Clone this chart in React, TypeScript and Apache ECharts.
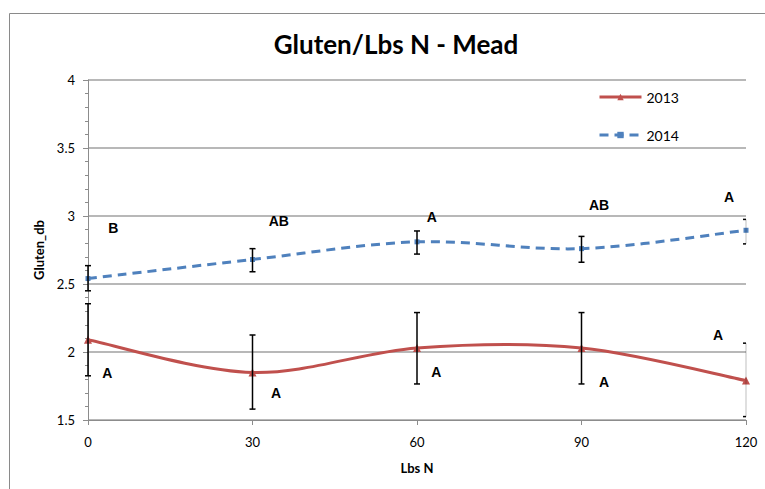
import React, { useEffect, useRef } from "react";
import * as echarts from "echarts";

const nLevels = [0, 30, 60, 90, 120];
const gluten2013 = [2.09, 1.85, 2.03, 2.03, 1.79];
const gluten2014 = [2.54, 2.68, 2.81, 2.76, 2.895];
const err2013Low = [1.825, 1.58, 1.765, 1.765, 1.525];
const err2013High = [2.355, 2.125, 2.29, 2.29, 2.065];
const err2014Low = [2.45, 2.59, 2.72, 2.66, 2.795];
const err2014High = [2.635, 2.76, 2.89, 2.85, 2.975];

// significance letters: [x, y, text]
const letters2014: [number, number, string][] = [
  [4.6, 2.91, "B"],
  [34.8, 2.96, "AB"],
  [62.7, 2.99, "A"],
  [93.2, 3.08, "AB"],
  [116.9, 3.14, "A"],
];
const letters2013: [number, number, string][] = [
  [3.5, 1.846, "A"],
  [34.3, 1.7, "A"],
  [63.5, 1.853, "A"],
  [94.1, 1.78, "A"],
  [114.9, 2.125, "A"],
];

const RED = "#C0504D";
const BLUE = "#4F81BD";
const LABEL_FONT = "Lato, 'Open Sans', sans-serif";

// Catmull-Rom style smooth path (Excel-like) in pixel space
function smoothPath(pts: number[][]): string {
  if (!pts.length) return "";
  let d = `M${pts[0][0]},${pts[0][1]}`;
  for (let i = 0; i < pts.length - 1; i++) {
    const p0 = pts[i - 1] || pts[i];
    const p1 = pts[i];
    const p2 = pts[i + 1];
    const p3 = pts[i + 2] || pts[i + 1];
    const c1x = p1[0] + (p2[0] - p0[0]) / 6;
    const c1y = p1[1] + (p2[1] - p0[1]) / 6;
    const c2x = p2[0] - (p3[0] - p1[0]) / 6;
    const c2y = p2[1] - (p3[1] - p1[1]) / 6;
    d += ` C${c1x},${c1y} ${c2x},${c2y} ${p2[0]},${p2[1]}`;
  }
  return d;
}

function curveSeries(name: string, values: number[], color: string, dash: number[] | null) {
  return {
    name: name + " curve",
    type: "custom",
    clip: true,
    data: nLevels.map((x, i) => [x, values[i]]),
    z: 3,
    renderItem: (params: any, api: any) => {
      if (params.dataIndex !== 0) return null;
      const pts = nLevels.map((x, i) => api.coord([x, values[i]]));
      const style: any = { stroke: color, lineWidth: 3, fill: "none", lineCap: "butt" };
      if (dash) style.lineDash = dash;
      return { type: "path", shape: { pathData: smoothPath(pts) }, style };
    },
  };
}

export default function App() {
  const ref = useRef<HTMLDivElement>(null);
  useEffect(() => {
    document.body.style.margin = "0";
    if (!ref.current) return;
    const chart = echarts.init(ref.current, undefined, { renderer: "svg" });

    const errData = [
      ...nLevels.map((x, i) => [x, err2013Low[i], err2013High[i]]),
      ...nLevels.map((x, i) => [x, err2014Low[i], err2014High[i]]),
    ];
    const letterData = [...letters2014, ...letters2013];

    const option: any = {
      animation: false,
      backgroundColor: "#ffffff",
      title: {
        text: "Gluten/Lbs N - Mead",
        left: 391,
        textAlign: "center",
        top: 26,
        textStyle: {
          fontFamily: LABEL_FONT,
          fontWeight: "bold",
          fontSize: 26,
          color: "#000",
        },
      },
      graphic: [
        {
          type: "rect",
          silent: true,
          shape: { x: 9.5, y: 13.5, width: 800, height: 520 },
          style: { fill: "none", stroke: "#8a8a8a", lineWidth: 1 },
        },
      ],
      legend: {
        data: [
          {
            name: "2013",
            lineStyle: { color: RED, width: 3, opacity: 1, type: "solid" },
            itemStyle: { color: RED },
          },
          {
            name: "2014",
            lineStyle: { color: BLUE, width: 3, opacity: 1, type: [9, 6] },
            itemStyle: { color: BLUE },
          },
        ],
        orient: "vertical",
        left: 598,
        top: 90,
        padding: 0,
        itemWidth: 42,
        itemHeight: 8,
        itemGap: 24,
        textStyle: { fontFamily: LABEL_FONT, fontSize: 14, color: "#000" },
      },
      grid: { left: 88, right: 19, top: 80, bottom: 69, containLabel: false },
      xAxis: {
        type: "value",
        min: 0,
        max: 120,
        interval: 30,
        name: "Lbs N",
        nameLocation: "middle",
        nameGap: 41,
        nameTextStyle: { fontFamily: LABEL_FONT, fontWeight: "bold", fontSize: 13, color: "#000" },
        axisLine: { show: true, lineStyle: { color: "#8c8c8c", width: 1 } },
        axisTick: { show: true, length: 5, lineStyle: { color: "#8c8c8c" } },
        axisLabel: { fontFamily: LABEL_FONT, fontSize: 13, color: "#000", margin: 15 },
        splitLine: { show: false },
      },
      yAxis: {
        type: "value",
        min: 1.5,
        max: 4,
        interval: 0.5,
        name: "Gluten_db",
        nameLocation: "middle",
        nameGap: 41,
        nameTextStyle: { fontFamily: LABEL_FONT, fontWeight: "bold", fontSize: 13, color: "#000" },
        axisLine: { show: true, lineStyle: { color: "#8c8c8c", width: 1 } },
        axisTick: { show: true, length: 5, lineStyle: { color: "#8c8c8c" } },
        minorTick: { show: true, splitNumber: 5, length: 3, lineStyle: { color: "#8c8c8c" } },
        axisLabel: { fontFamily: LABEL_FONT, fontSize: 13, color: "#000", margin: 13 },
        splitLine: { show: true, lineStyle: { color: "#a0a0a0", width: 1.5 } },
      },
      series: [
        curveSeries("2013", gluten2013, RED, null),
        curveSeries("2014", gluten2014, BLUE, [9, 6]),
        {
          name: "2013",
          type: "line",
          data: nLevels.map((x, i) => [x, gluten2013[i]]),
          symbol: "triangle",
          symbolSize: 8,
          lineStyle: { color: RED, width: 0, opacity: 0 },
          itemStyle: { color: RED },
          z: 4,
        },
        {
          name: "2014",
          type: "line",
          data: nLevels.map((x, i) => [x, gluten2014[i]]),
          symbol: "rect",
          symbolSize: 5,
          lineStyle: { color: BLUE, width: 0, opacity: 0 },
          itemStyle: { color: BLUE },
          z: 4,
        },
        {
          name: "errors",
          type: "custom",
          clip: false,
          data: errData,
          z: 5,
          renderItem: (params: any, api: any) => {
            const x = api.value(0);
            const lo = api.coord([x, api.value(1)]);
            const hi = api.coord([x, api.value(2)]);
            const cs = params.coordSys;
            const right = cs.x + cs.width;
            const atEdge = lo[0] >= right - 0.5;
            const hw = 3;
            const capR = Math.min(lo[0] + hw, right);
            const style = { stroke: "#000", lineWidth: 1.5 };
            const vStyle = atEdge
              ? { stroke: "#000", lineWidth: 1, opacity: 0.25 }
              : style;
            return {
              type: "group",
              children: [
                { type: "line", shape: { x1: lo[0], y1: lo[1], x2: hi[0], y2: hi[1] }, style: vStyle },
                { type: "line", shape: { x1: lo[0] - hw, y1: lo[1], x2: capR, y2: lo[1] }, style },
                { type: "line", shape: { x1: hi[0] - hw, y1: hi[1], x2: capR, y2: hi[1] }, style },
              ],
            };
          },
        },
        {
          name: "letters",
          type: "custom",
          data: letterData,
          z: 6,
          renderItem: (params: any, api: any) => {
            const p = api.coord([api.value(0), api.value(1)]);
            return {
              type: "text",
              x: p[0],
              y: p[1],
              style: {
                text: letterData[params.dataIndex][2],
                fontFamily: "'Liberation Sans', Arial, sans-serif",
                fontWeight: "bold",
                fontSize: 14,
                fill: "#000",
                align: "center",
                verticalAlign: "middle",
              },
            };
          },
        },
      ],
    };
    chart.setOption(option);
    return () => chart.dispose();
  }, []);

  return <div ref={ref} style={{ width: 765, height: 489 }} />;
}
